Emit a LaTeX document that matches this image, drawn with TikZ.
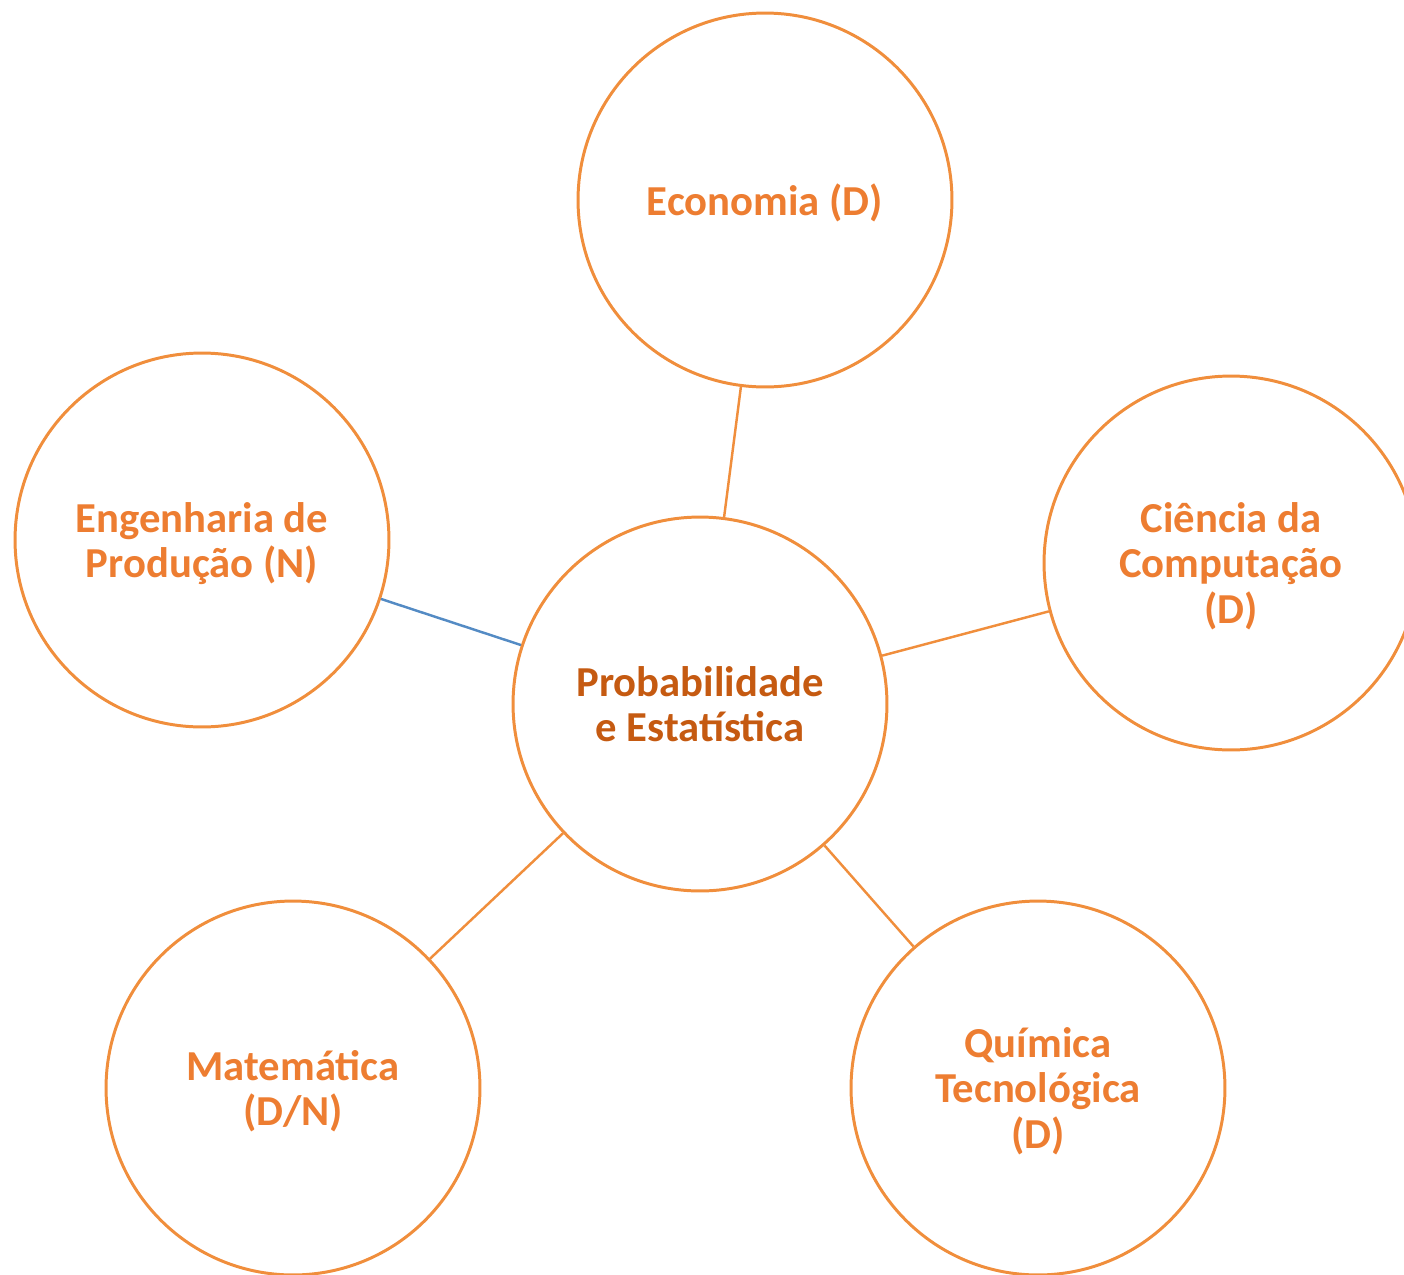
\documentclass[tikz,border=0pt]{standalone}
\usepackage{fontspec}
\setmainfont{Carlito}
\usetikzlibrary{positioning}

\definecolor{ringorange}{RGB}{240,142,60}
\definecolor{textorange}{RGB}{237,125,49}
\definecolor{hubtext}{RGB}{197,90,17}
\definecolor{linkblue}{RGB}{84,139,196}

\begin{document}
\begin{tikzpicture}[
        x=0.02cm, y=-0.02cm,
        font=\fontsize{24.3}{25.8}\selectfont\bfseries,
        topic/.style={draw=ringorange, line width=1.7pt, circle, minimum size=7.48cm, inner sep=0pt, align=center, text=textorange, text depth=0pt},
        hub/.style={topic, text=hubtext},
        link/.style={draw=ringorange, line width=1.4pt},
        bluelink/.style={link, draw=linkblue}
    ]
    \useasboundingbox (0,0) rectangle (1404,1275);

    % Center
    \node[hub] (stats) at (700,704) {Probabilidade\\ e Estatística};

    % Surrounding courses
    \node[topic] (econ) at (765,200) {Economia (D)};
    \node[topic] (prod) at (202,540) {Engenharia de\\ Produção (N)};
    \node[topic] (comp) at (1231,563) {Ciência da\\ Computação\\ (D)};
    \node[topic] (quim) at (1038,1088) {Química\\ Tecnológica\\ (D)};
    \node[topic] (mat) at (293,1088) {Matemática\\ (D/N)};

    % Links to the center
    \draw[link] (econ) -- (stats);
    \draw[bluelink] (prod) -- (stats);
    \draw[link] (comp) -- (stats);
    \draw[link] (quim) -- (stats);
    \draw[link] (mat) -- (stats);

\end{tikzpicture}
\end{document}
